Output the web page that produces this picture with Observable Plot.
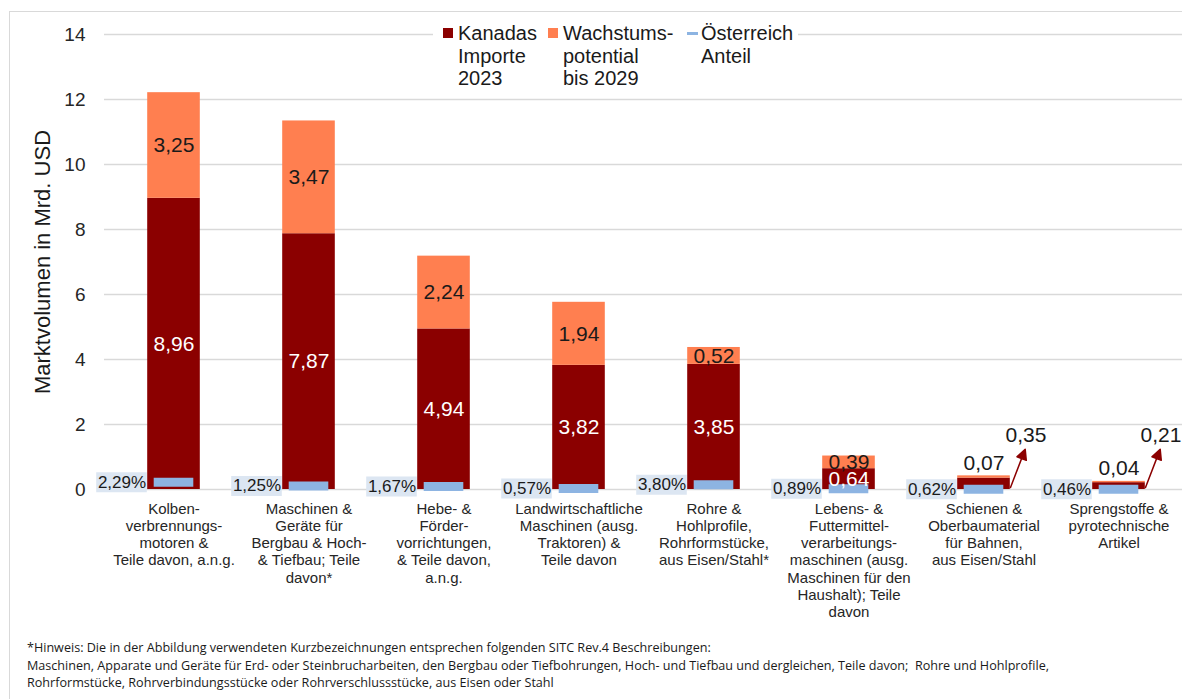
<!DOCTYPE html>
<html><head><meta charset="utf-8">
<script src="https://cdn.jsdelivr.net/npm/d3@7"></script>
<script src="https://cdn.jsdelivr.net/npm/@observablehq/plot@0.6"></script>
<style>
body{margin:0;background:#fff;font-family:"Liberation Sans",Arial,sans-serif;}
#wrap{position:relative;width:1182px;height:699px;overflow:hidden;background:#fff;}
#frame{position:absolute;left:9px;top:11px;width:1200px;height:720px;border-left:1.5px solid #d9d9d9;border-top:1.5px solid #d9d9d9;box-sizing:border-box;}
#chart{position:absolute;left:0;top:0;}
#ytitle{position:absolute;left:43px;top:261.5px;transform:translate(-50%,-50%) rotate(-90deg);white-space:nowrap;font-size:22px;color:#1a1a1a;line-height:1;}
#legend{position:absolute;left:433px;top:18px;width:365px;height:80px;background:#fff;font-size:20px;line-height:22.5px;color:#1a1a1a;}
.li{position:absolute;top:4px;white-space:pre-line;}
.sw{position:absolute;}
#note{position:absolute;left:27px;top:639px;font-family:"Open Sans",sans-serif;font-size:12.6px;line-height:17.5px;color:#1a1a1a;white-space:pre;}
</style></head><body>
<div id="wrap"><div id="frame"></div><div id="chart"></div><div id="ytitle"></div><div id="legend"></div><div id="note"></div></div>
<script>
const categories = [
  "Kolben-\nverbrennungs-\nmotoren &\nTeile davon, a.n.g.",
  "Maschinen &\nGeräte für\nBergbau & Hoch-\n& Tiefbau; Teile\ndavon*",
  "Hebe- &\nFörder-\nvorrichtungen,\n& Teile davon,\na.n.g.",
  "Landwirtschaftliche\nMaschinen (ausg.\nTraktoren) &\nTeile davon",
  "Rohre &\nHohlprofile,\nRohrformstücke,\naus Eisen/Stahl*",
  "Lebens- &\nFuttermittel-\nverarbeitungs-\nmaschinen (ausg.\nMaschinen für den\nHaushalt); Teile\ndavon",
  "Schienen &\nOberbaumaterial\nfür Bahnen,\naus Eisen/Stahl",
  "Sprengstoffe &\npyrotechnische\nArtikel"
];
const imports = [8.96, 7.87, 4.94, 3.82, 3.85, 0.64, 0.35, 0.21];
const growth  = [3.25, 3.47, 2.24, 1.94, 0.52, 0.39, 0.07, 0.04];
const shares  = [2.29, 1.25, 1.67, 0.57, 3.80, 0.89, 0.62, 0.46];
const austria = [0.22, 0.11, 0.09, 0.03, 0.15, 0.02, 0.01, 0.01];
const yTicks = [0, 2, 4, 6, 8, 10, 12, 14];
const seriesNames = ["Kanadas\nImporte\n2023", "Wachstums-\npotential\nbis 2029", "Österreich\nAnteil"];
const yTitle = "Marktvolumen in Mrd. USD";
const footnote = [
  "*Hinweis: Die in der Abbildung verwendeten Kurzbezeichnungen entsprechen folgenden SITC Rev.4 Beschreibungen:",
  "Maschinen, Apparate und Geräte für Erd- oder Steinbrucharbeiten, den Bergbau oder Tiefbohrungen, Hoch- und Tiefbau und dergleichen, Teile davon;  Rohre und Hohlprofile,",
  "Rohrformstücke, Rohrverbindungsstücke oder Rohrverschlussstücke, aus Eisen oder Stahl"
];

const RED = "#8B0000", ORANGE = "#FF7F50", BLUE = "#8DB4E2", BOX = "#DCE6F2";
const fmt = v => v.toFixed(2).replace(".", ",");

const stacked = [];
categories.forEach((c, i) => {
  stacked.push({cat: c, series: seriesNames[0], value: imports[i]});
  stacked.push({cat: c, series: seriesNames[1], value: growth[i]});
});
const rows = categories.map((c, i) => ({cat: c, imp: imports[i], gr: growth[i], share: shares[i], at: austria[i]}));
const big = rows.filter(d => d.imp >= 0.5);
const small = rows.filter(d => d.imp < 0.5);

const arrowShape = {
  draw(context, l) {
    context.moveTo(0, 0);
    context.lineTo(0, -l + 9);
    context.moveTo(-5, -l + 10);
    context.lineTo(0, -l);
    context.lineTo(5, -l + 10);
    context.closePath();
  }
};

const chart = Plot.plot({
  width: 1182,
  height: 630,
  marginLeft: 104,
  marginRight: 0,
  marginTop: 34,
  marginBottom: 141,
  style: {fontFamily: "'Liberation Sans', Arial, sans-serif", fontSize: "15px", color: "#262626", background: "transparent", overflow: "hidden"},
  x: {domain: categories, range: [104, 1187], padding: 0},
  y: {domain: [0, 14], nice: false},
  color: {domain: seriesNames.slice(0, 2), range: [RED, ORANGE]},
  marks: [
    Plot.ruleY(yTicks, {stroke: "#d9d9d9", strokeWidth: 1.5}),
    Plot.barY(stacked, {x: "cat", y: "value", fill: "series", insetLeft: 41.2, insetRight: 41.2}),
    Plot.tickY(rows, {x: "cat", y: "at", stroke: BLUE, strokeWidth: 9, insetLeft: 47.7, insetRight: 47.7}),
    Plot.tickY(rows, {x: "cat", y: "at", stroke: BOX, strokeWidth: 20, insetLeft: -9.8, insetRight: 94.2}),
    Plot.text(rows, {x: "cat", y: "at", text: d => fmt(d.share) + "%", dx: -52, fontSize: 17, fill: "#1a1a1a"}),
    Plot.text(big, {x: "cat", y: d => d.imp / 2, text: d => fmt(d.imp), fill: "white", fontSize: 21}),
    Plot.text(big, {x: "cat", y: d => d.imp + d.gr / 2, text: d => fmt(d.gr), fill: "#1a1a1a", fontSize: 21}),
    Plot.text(small, {x: "cat", y: d => d.imp + d.gr, text: d => fmt(d.gr), dy: -13, fill: "#1a1a1a", fontSize: 21}),
    Plot.vector(small, {x: "cat", y: d => 0, dx: 26.5, dy: -2, anchor: "start", length: 41, rotate: 21, stroke: RED, fill: RED, strokeWidth: 1.5, shape: arrowShape}),
    Plot.text(small, {x: "cat", y: d => 0, text: d => fmt(d.imp), dx: 42, dy: -54, fill: "#1a1a1a", fontSize: 21}),
    Plot.axisY({ticks: yTicks, tickSize: 0, tickPadding: 19, fontSize: 19, label: null, tickFormat: d => String(d)}),
    Plot.axisX({tickSize: 0, tickPadding: 12, fontSize: 15, lineHeight: 1.15, label: null})
  ]
});
document.getElementById("chart").appendChild(chart);
document.getElementById("ytitle").textContent = yTitle;

// legend
const lg = document.getElementById("legend");
const items = [
  {sw: {left: 10, top: 10, width: 10, height: 10, background: RED}, tx: 25},
  {sw: {left: 115, top: 10, width: 10, height: 10, background: ORANGE}, tx: 130},
  {sw: {left: 254, top: 14, width: 11, height: 3, background: BLUE}, tx: 268}
];
items.forEach((it, i) => {
  const s = document.createElement("div");
  s.className = "sw";
  Object.entries(it.sw).forEach(([k, v]) => s.style[k] = typeof v === "number" ? v + "px" : v);
  lg.appendChild(s);
  const t = document.createElement("div");
  t.className = "li";
  t.style.left = it.tx + "px";
  t.textContent = seriesNames[i];
  lg.appendChild(t);
});
document.getElementById("note").textContent = footnote.join("\n");
</script>
</body></html>
